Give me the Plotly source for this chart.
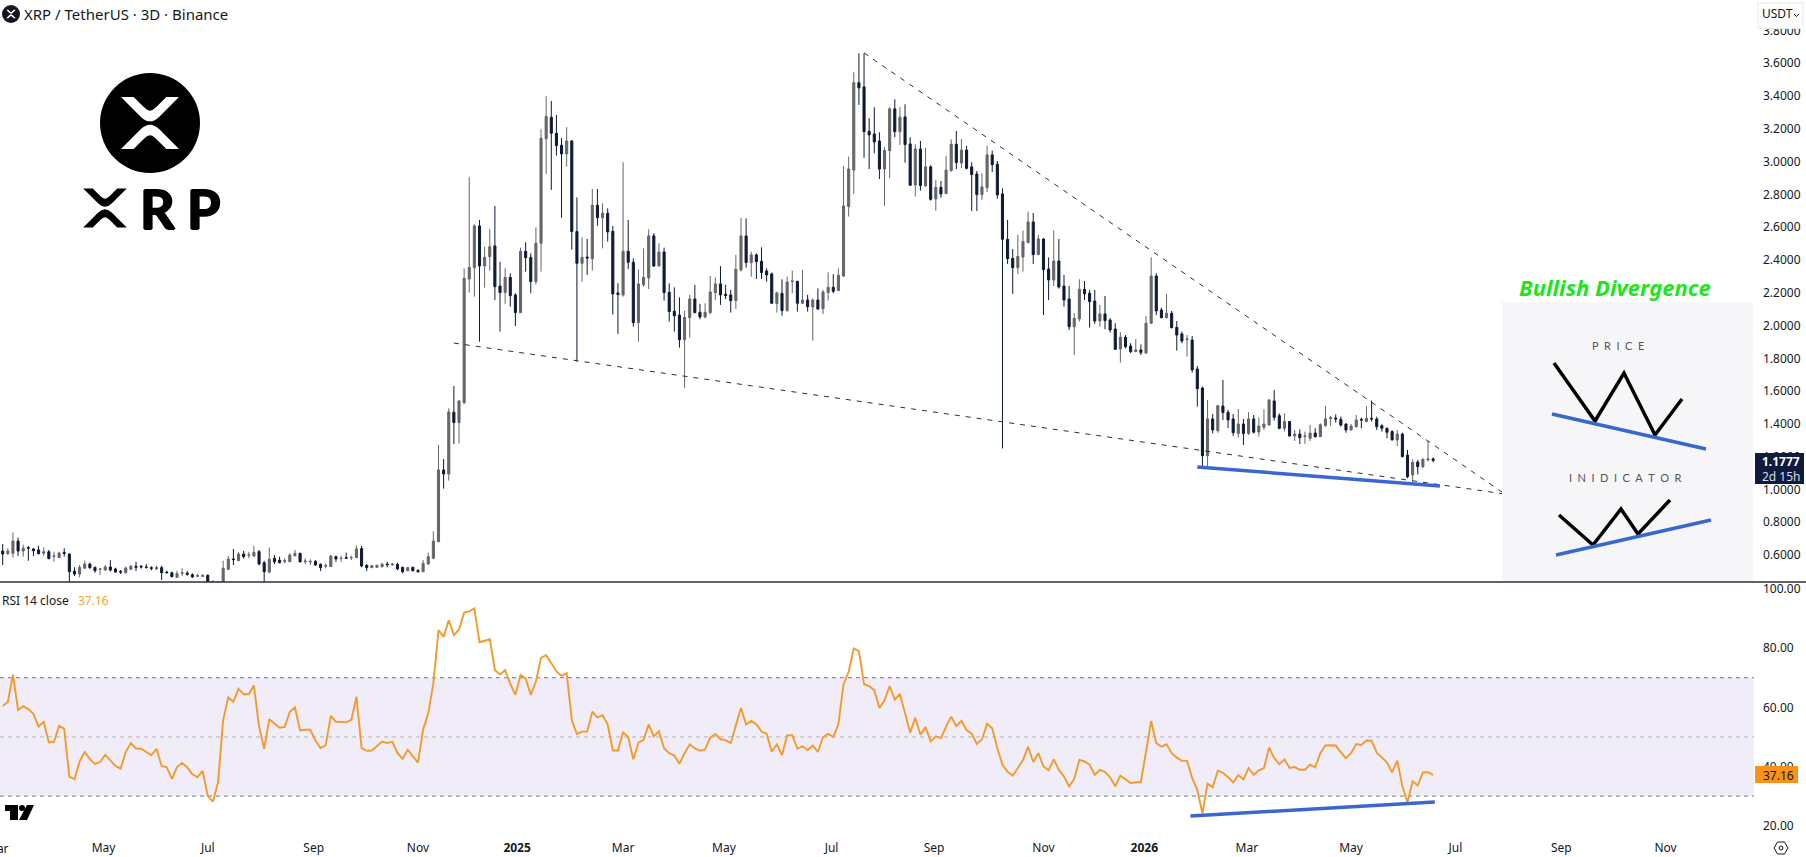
import pandas as pd
import plotly.graph_objects as go

WIDTH, HEIGHT = 1806, 857
PLOT_W = 1754          # price gutter starts here
PANE_SPLIT = 582       # separator between price and RSI panes
RSI_BOTTOM = 834

first_bar = pd.Timestamp("2024-03-03")
bar_count = 280

# XRP/USDT three-day candles
candle_side = (
    "DUUDUDDDUD" "UUDDDUUDDU" "UDDDUUDDDD" "UDDDUUDDUU" "DUUUUDUDUU" "DDUDDUUUDU" "UDDUUDUDUU"
    "DDUUUDUDDU" "DDUUUUDUDU" "UUUDUUDDUD" "DUDDUUUDDD" "UDDUDUDUDD" "DUDDUUUDUD" "DDDUUDDUUU"
    "DDDUUDUDDD" "DUDUUDUDUD" "UUDUUUUDDD" "DDUUDUDDUD" "UDUDUUDUDD" "DUUDDDDDUU" "UDUDDUDDDU"
    "UDDDUDDDUD" "DUDUUDDUDD" "DUDDDUDUDD" "DUDUDUUUDD" "UDUDUUDUUU" "DDDUUDUDDD" "DDUDDUDUUD"
)

highs = [
    .667, .641, .738, .706, .663, .655, .641, .657, .647, .631,
    .620, .620, .641, .610, .525, .539, .567, .553, .529, .519,
    .539, .569, .523, .508, .529, .539, .559, .539, .545, .531,
    .535, .535, .504, .498, .504, .519, .502, .488, .484, .484,
    .482, .447, .441, .565, .594, .637, .616, .626, .620, .655,
    .631, .565, .645, .600, .590, .580, .610, .631, .614, .580,
    .574, .569, .549, .549, .600, .596, .596, .614, .596, .659,
    .655, .545, .539, .541, .553, .559, .549, .553, .529, .525,
    .529, .513, .569, .614, .744, 1.271, 1.186, 1.495, 1.631, 1.546,
    2.349, 2.905, 2.618, 2.644, 2.481, 2.589, 2.730, 2.388, 2.349, 2.319,
    2.197, 2.475, 2.508, 2.441, 2.599, 3.197, 3.401, 3.370, 3.285, 3.143,
    3.210, 3.132, 2.782, 2.538, 2.528, 2.833, 2.833, 2.746, 2.715, 2.608,
    2.258, 2.996, 2.644, 2.410, 2.343, 2.471, 2.587, 2.563, 2.502, 2.475,
    2.258, 2.233, 2.172, 2.089, 2.187, 2.248, 2.132, 2.136, 2.302, 2.294,
    2.363, 2.248, 2.217, 2.431, 2.658, 2.654, 2.451, 2.441, 2.477, 2.349,
    2.323, 2.207, 2.282, 2.298, 2.335, 2.272, 2.339, 2.187, 2.166, 2.227,
    2.217, 2.325, 2.313, 2.349, 2.974, 3.031, 3.545, 3.661, 3.661, 3.265,
    3.332, 3.179, 3.088, 3.332, 3.380, 3.332, 3.350, 3.149, 3.106, 3.126,
    3.084, 2.978, 2.888, 2.882, 3.035, 3.136, 3.187, 3.138, 3.096, 2.996,
    2.943, 2.929, 3.098, 3.067, 3.004, 2.837, 2.644, 2.467, 2.553, 2.579,
    2.695, 2.687, 2.553, 2.532, 2.416, 2.581, 2.528, 2.309, 2.241, 2.075,
    2.282, 2.272, 2.217, 2.217, 2.126, 2.180, 2.044, 2.014, 1.959, 1.942,
    1.892, 1.918, 1.885, 2.058, 2.416, 2.319, 2.109, 2.193, 2.089, 2.028,
    1.963, 1.942, 1.936, 1.753, 1.627, 1.546, 1.460, 1.515, 1.668, 1.485,
    1.460, 1.491, 1.430, 1.471, 1.454, 1.440, 1.489, 1.550, 1.607, 1.464,
    1.464, 1.418, 1.363, 1.367, 1.353, 1.393, 1.373, 1.403, 1.509, 1.448,
    1.458, 1.444, 1.403, 1.399, 1.454, 1.438, 1.509, 1.542, 1.444, 1.397,
    1.377, 1.361, 1.363, 1.346, 1.241, 1.184, 1.180, 1.190, 1.296, 1.196,
]

body_tops = [
    .624, .624, .685, .685, .641, .645, .637, .631, .620, .620,
    .594, .612, .616, .606, .502, .525, .545, .545, .525, .515,
    .527, .527, .515, .500, .521, .531, .531, .531, .527, .523,
    .523, .523, .496, .492, .486, .492, .490, .480, .474, .474,
    .476, .437, .437, .519, .576, .576, .606, .606, .600, .616,
    .620, .553, .574, .580, .569, .565, .600, .610, .610, .563,
    .561, .561, .543, .535, .594, .590, .580, .584, .584, .637,
    .639, .537, .535, .537, .543, .545, .545, .543, .525, .523,
    .525, .506, .549, .590, .685, 1.119, 1.119, 1.473, 1.471, 1.540,
    2.288, 2.355, 2.608, 2.608, 2.416, 2.481, 2.486, 2.241, 2.294, 2.294,
    2.187, 2.453, 2.453, 2.416, 2.502, 3.143, 3.275, 3.271, 3.173, 3.100,
    3.126, 3.126, 2.573, 2.416, 2.418, 2.734, 2.734, 2.685, 2.685, 2.575,
    2.199, 2.453, 2.453, 2.386, 2.254, 2.294, 2.547, 2.547, 2.449, 2.449,
    2.203, 2.087, 2.064, 2.050, 2.162, 2.162, 2.081, 2.081, 2.205, 2.254,
    2.254, 2.191, 2.187, 2.343, 2.547, 2.547, 2.431, 2.431, 2.392, 2.333,
    2.315, 2.199, 2.197, 2.266, 2.272, 2.270, 2.156, 2.156, 2.156, 2.156,
    2.205, 2.233, 2.233, 2.307, 2.730, 2.955, 3.482, 3.482, 3.456, 3.185,
    3.169, 3.126, 3.069, 3.322, 3.322, 3.271, 3.273, 3.108, 3.077, 3.077,
    2.968, 2.968, 2.843, 2.843, 2.949, 3.106, 3.106, 3.071, 3.071, 2.968,
    2.925, 2.846, 3.041, 3.041, 2.984, 2.803, 2.526, 2.410, 2.422, 2.512,
    2.632, 2.632, 2.528, 2.528, 2.345, 2.394, 2.394, 2.241, 2.162, 2.044,
    2.221, 2.221, 2.197, 2.150, 2.071, 2.071, 2.034, 1.979, 1.928, 1.928,
    1.875, 1.851, 1.851, 2.014, 2.302, 2.302, 2.095, 2.075, 2.075, 1.989,
    1.949, 1.918, 1.912, 1.735, 1.619, 1.430, 1.430, 1.511, 1.509, 1.471,
    1.430, 1.399, 1.399, 1.430, 1.430, 1.387, 1.399, 1.546, 1.540, 1.450,
    1.414, 1.414, 1.338, 1.338, 1.326, 1.344, 1.344, 1.395, 1.430, 1.438,
    1.436, 1.428, 1.399, 1.387, 1.424, 1.428, 1.434, 1.434, 1.430, 1.389,
    1.373, 1.353, 1.338, 1.338, 1.210, 1.165, 1.167, 1.184, 1.186, 1.186,
]

body_bottoms = [
    .606, .610, .610, .624, .624, .641, .626, .608, .610, .578,
    .590, .584, .610, .498, .484, .484, .519, .523, .504, .513,
    .508, .508, .496, .496, .492, .513, .525, .527, .525, .519,
    .515, .492, .492, .468, .464, .488, .482, .466, .470, .470,
    .433, .433, .427, .417, .513, .572, .565, .590, .598, .594,
    .545, .498, .496, .559, .553, .561, .559, .596, .559, .559,
    .557, .539, .523, .531, .529, .576, .578, .580, .582, .584,
    .533, .523, .523, .525, .529, .541, .541, .515, .498, .504,
    .504, .498, .498, .545, .580, .681, 1.094, 1.094, 1.408, 1.408,
    1.529, 2.284, 2.353, 2.363, 2.363, 2.420, 2.237, 2.201, 2.201, 2.182,
    2.079, 2.079, 2.414, 2.268, 2.268, 2.502, 3.140, 3.173, 3.098, 3.047,
    3.047, 2.573, 2.380, 2.380, 2.412, 2.408, 2.658, 2.658, 2.571, 2.193,
    2.189, 2.187, 2.386, 2.018, 2.018, 2.248, 2.290, 2.363, 2.363, 2.201,
    2.085, 2.060, 1.914, 1.914, 2.048, 2.079, 2.052, 2.052, 2.079, 2.201,
    2.187, 2.184, 2.152, 2.152, 2.339, 2.384, 2.384, 2.390, 2.323, 2.309,
    2.136, 2.134, 2.091, 2.091, 2.268, 2.136, 2.136, 2.115, 2.113, 2.101,
    2.103, 2.201, 2.209, 2.213, 2.302, 2.726, 2.949, 3.450, 3.183, 3.163,
    3.120, 2.955, 2.955, 3.067, 3.183, 3.183, 3.104, 2.856, 2.858, 2.854,
    2.852, 2.770, 2.772, 2.803, 2.805, 2.945, 2.994, 2.992, 2.959, 2.921,
    2.799, 2.799, 2.841, 2.982, 2.797, 2.526, 2.408, 2.353, 2.353, 2.418,
    2.506, 2.433, 2.433, 2.341, 2.278, 2.278, 2.235, 2.156, 1.993, 1.993,
    2.040, 2.193, 2.146, 2.028, 2.028, 2.030, 1.973, 1.855, 1.857, 1.871,
    1.841, 1.841, 1.835, 1.833, 2.014, 2.089, 2.048, 2.048, 1.987, 1.942,
    1.906, 1.914, 1.729, 1.615, 1.206, 1.206, 1.363, 1.359, 1.469, 1.424,
    1.346, 1.342, 1.342, 1.342, 1.349, 1.351, 1.379, 1.393, 1.440, 1.373,
    1.373, 1.326, 1.326, 1.316, 1.322, 1.312, 1.322, 1.322, 1.389, 1.432,
    1.430, 1.393, 1.363, 1.363, 1.383, 1.424, 1.414, 1.430, 1.383, 1.373,
    1.349, 1.302, 1.302, 1.200, 1.078, 1.088, 1.139, 1.139, 1.180, 1.1777,
]

lows = [
    .539, .600, .584, .594, .590, .565, .594, .604, .596, .574,
    .559, .582, .590, .433, .472, .464, .517, .515, .492, .478,
    .506, .500, .492, .484, .488, .508, .502, .517, .517, .506,
    .508, .447, .488, .464, .462, .472, .474, .460, .466, .468,
    .420, .420, .417, .407, .508, .539, .563, .578, .580, .590,
    .537, .417, .488, .545, .549, .549, .557, .590, .553, .545,
    .539, .535, .502, .519, .527, .559, .557, .578, .569, .582,
    .525, .502, .523, .523, .523, .525, .533, .508, .488, .502,
    .500, .492, .496, .541, .574, .681, 1.005, 1.054, 1.277, 1.281,
    1.521, 2.201, 2.176, 1.902, 2.231, 2.335, 2.156, 1.963, 2.132, 2.115,
    1.997, 2.079, 2.329, 2.197, 2.250, 2.329, 2.925, 2.827, 3.037, 2.658,
    2.970, 2.463, 1.780, 2.268, 2.309, 2.335, 2.608, 2.471, 2.512, 2.067,
    1.949, 2.176, 2.345, 1.993, 1.902, 2.237, 2.223, 2.359, 2.363, 2.152,
    2.024, 1.963, 1.865, 1.619, 1.926, 2.075, 2.038, 2.044, 2.069, 2.156,
    2.126, 2.162, 2.079, 2.101, 2.329, 2.353, 2.298, 2.284, 2.284, 2.268,
    2.132, 2.079, 2.060, 2.085, 2.197, 2.085, 2.132, 2.085, 1.908, 2.095,
    2.069, 2.152, 2.197, 2.211, 2.298, 2.665, 2.803, 3.346, 3.023, 2.955,
    3.051, 2.894, 2.730, 2.898, 3.149, 3.102, 2.994, 2.852, 2.787, 2.823,
    2.848, 2.762, 2.701, 2.780, 2.803, 2.939, 2.955, 2.961, 2.953, 2.699,
    2.699, 2.766, 2.815, 2.937, 2.774, 1.250, 2.376, 2.193, 2.315, 2.329,
    2.502, 2.376, 2.429, 2.064, 2.156, 2.241, 2.225, 2.115, 1.973, 1.820,
    2.024, 2.156, 1.987, 2.010, 1.993, 1.977, 1.957, 1.851, 1.774, 1.861,
    1.831, 1.839, 1.820, 1.827, 2.010, 2.064, 2.044, 2.044, 1.983, 1.847,
    1.892, 1.810, 1.713, 1.505, 1.139, 1.129, 1.342, 1.346, 1.424, 1.375,
    1.326, 1.316, 1.271, 1.332, 1.342, 1.322, 1.363, 1.389, 1.420, 1.367,
    1.353, 1.322, 1.296, 1.277, 1.277, 1.296, 1.316, 1.320, 1.383, 1.387,
    1.408, 1.383, 1.346, 1.359, 1.377, 1.373, 1.410, 1.414, 1.363, 1.353,
    1.312, 1.300, 1.265, 1.196, 1.068, 1.047, 1.092, 1.129, 1.170, 1.165,
]

rsi_close = [
    60.4, 61.8, 71.0, 59.1, 60.4, 59.4, 57.8, 53.5, 55.1, 48.1,
    48.3, 53.8, 52.7, 36.6, 35.7, 41.7, 44.9, 42.5, 40.9, 41.5,
    43.9, 41.9, 40.2, 39.3, 44.9, 47.9, 46.1, 46.0, 44.9, 43.8,
    46.0, 40.2, 39.7, 35.8, 39.8, 41.2, 39.7, 37.4, 36.4, 38.5,
    30.1, 28.1, 34.7, 55.7, 63.3, 61.9, 66.3, 64.4, 64.4, 67.4,
    53.5, 46.0, 56.0, 54.4, 53.1, 53.4, 58.5, 60.0, 52.2, 52.4,
    52.4, 48.8, 46.2, 47.2, 57.1, 55.1, 55.1, 54.9, 55.8, 63.6,
    46.2, 45.3, 45.4, 46.9, 48.4, 47.9, 48.4, 44.5, 42.6, 45.7,
    43.4, 41.3, 52.4, 58.0, 68.1, 86.1, 83.8, 89.4, 84.4, 86.3,
    92.0, 92.4, 93.4, 82.0, 82.5, 83.0, 72.6, 71.1, 72.6, 67.9,
    64.2, 70.9, 69.8, 64.2, 68.7, 76.7, 77.6, 74.8, 72.2, 70.6,
    71.5, 55.7, 51.0, 51.8, 51.8, 58.5, 56.6, 57.3, 54.2, 45.4,
    45.4, 51.5, 50.0, 42.4, 48.1, 49.0, 54.2, 50.2, 51.9, 46.2,
    44.5, 43.7, 40.9, 44.5, 47.5, 46.2, 45.3, 45.8, 49.8, 51.0,
    49.2, 48.9, 47.9, 53.9, 59.8, 54.2, 55.4, 54.3, 51.8, 51.1,
    45.0, 47.5, 43.9, 50.5, 50.6, 46.0, 46.9, 45.5, 47.1, 44.9,
    49.9, 51.0, 50.0, 54.2, 67.8, 72.0, 79.9, 79.0, 67.8, 67.2,
    65.8, 59.8, 62.4, 67.2, 62.6, 64.5, 58.2, 51.4, 56.5, 50.7,
    53.3, 48.5, 50.2, 49.6, 53.5, 56.8, 53.6, 55.4, 52.3, 51.1,
    47.6, 49.2, 54.5, 52.9, 46.2, 40.6, 38.2, 36.9, 39.5, 42.2,
    46.7, 41.5, 44.5, 40.0, 38.7, 42.4, 38.9, 36.6, 33.3, 35.8,
    42.2, 41.7, 40.6, 37.2, 38.9, 38.2, 36.3, 33.3, 36.9, 35.6,
    34.4, 34.7, 34.7, 45.0, 55.4, 47.9, 46.7, 47.5, 44.5, 43.0,
    41.9, 41.9, 36.1, 32.2, 24.2, 34.2, 33.0, 38.6, 37.9, 36.4,
    34.6, 37.1, 35.6, 39.5, 37.2, 38.7, 39.5, 46.4, 42.8, 40.8,
    42.4, 39.5, 39.8, 38.9, 38.9, 40.6, 39.7, 44.5, 47.1, 47.2,
    47.1, 44.8, 42.8, 44.5, 47.6, 47.3, 48.8, 48.7, 44.7, 43.1,
    41.3, 38.0, 42.0, 33.3, 27.9, 35.0, 33.6, 38.0, 38.1, 37.16,
]

price_ticks = [0.6, 0.8, 1.0, 1.2, 1.4, 1.6, 1.8, 2.0, 2.2, 2.4, 2.6, 2.8, 3.0, 3.2, 3.4, 3.6, 3.8]
rsi_ticks = [20, 40, 60, 80, 100]
# Labels sit on the first bar of each month, so some fall a day or two off the calendar date
month_ticks = [
    "2024-05-01", "2024-07-01", "2024-09-01", "2024-11-01", "2024-12-29", "2025-03-01",
    "2025-04-29", "2025-07-01", "2025-08-30", "2025-11-02", "2025-12-31", "2026-03-01",
    "2026-05-01", "2026-07-01", "2026-09-01", "2026-11-01",
]
month_labels = [
    "May", "Jul", "Sep", "Nov", "<b>2025</b>", "Mar", "May", "Jul", "Sep", "Nov",
    "<b>2026</b>", "Mar", "May", "Jul", "Sep", "Nov",
]

# Trend lines: (date, price) endpoints
wedge_top = [("2025-07-20", 3.663), ("2026-07-30", 0.972)]
wedge_bottom = [("2024-11-22", 1.893), ("2026-07-30", 0.972)]
price_support = [("2026-01-31", 1.137), ("2026-06-22", 1.021)]
rsi_support = [("2026-01-27", 23.3), ("2026-06-19", 28.0)]

INK = "#131722"
UP = "#666666"
DOWN = "#0d1a35"
AMBER = "#f29a2e"
BLUE = "#3a66d0"
UI_FONT = "Noto Sans, sans-serif"
HEAVY = "1px 0 0 #000, -1px 0 0 #000, 0 1px 0 #000, 0 -1px 0 #000"

bar_dates = pd.date_range(first_bar, periods=bar_count, freq="3D")
opens = [b if s == "U" else t for s, t, b in zip(candle_side, body_tops, body_bottoms)]
closes = [t if s == "U" else b for s, t, b in zip(candle_side, body_tops, body_bottoms)]

day_px = 5.127 / 3
x_left = first_bar - pd.Timedelta(days=2.7 / day_px)
x_right = first_bar + pd.Timedelta(days=(PLOT_W - 2.7) / day_px)


def px(x, y):
    """Canvas pixels to the layout's paper fractions."""
    return x / PLOT_W, 1 - y / HEIGHT


def path(points, close=True):
    cmds = []
    for i, pt in enumerate(points):
        if len(pt) == 2:
            cmds.append(("M" if i == 0 else "L") + " %.5f %.5f" % px(*pt))
        else:
            a = px(pt[0], pt[1])
            b = px(pt[2], pt[3])
            cmds.append("Q %.5f %.5f %.5f %.5f" % (*a, *b))
    return " ".join(cmds) + (" Z" if close else "")


def paper_shape(kind, **kw):
    return dict(type=kind, xref="paper", yref="paper", layer="above", **kw)


def rect(x0, y0, x1, y1, fill, line=None):
    a, b = px(x0, y0), px(x1, y1)
    return paper_shape("rect", x0=a[0], y0=a[1], x1=b[0], y1=b[1], fillcolor=fill,
                       line=dict(color=line or fill, width=1 if line else 0))


def circle(cx, cy, r, fill, line=None, width=0):
    a, b = px(cx - r, cy - r), px(cx + r, cy + r)
    return paper_shape("circle", x0=a[0], y0=a[1], x1=b[0], y1=b[1], fillcolor=fill,
                       line=dict(color=line or fill, width=width))


def poly(points, color, width):
    return paper_shape("path", path=path(points, close=False),
                       line=dict(color=color, width=width), fillcolor="rgba(0,0,0,0)")


def xrp_mark(cx, cy, s, fill):
    """Two mirrored chevrons forming the XRP X."""
    def pt(x, y):
        return cx + x * s, cy + y * s

    def chevron(sign, base):
        return [
            pt(-87, sign * base), pt(-49, sign * base),
            pt(-18, sign * (base - 31)),
            (*pt(-8, sign * (base - 41)), *pt(0, sign * (base - 41))),
            (*pt(8, sign * (base - 41)), *pt(18, sign * (base - 31))),
            pt(49, sign * base), pt(87, sign * base),
            pt(28, sign * (base - 59)),
            (*pt(14, sign * (base - 73)), *pt(0, sign * (base - 73))),
            (*pt(-14, sign * (base - 73)), *pt(-28, sign * (base - 59))),
        ]

    return [paper_shape("path", path=path(chevron(s_, 78)), fillcolor=fill, line=dict(width=0))
            for s_ in (-1, 1)]


def text(x, y, s, size=12, color=INK, anchor="left", family=UI_FONT, **font_extra):
    fx, fy = px(x, y)
    font = dict(size=size, color=color, family=family, **font_extra)
    return dict(x=fx, y=fy, xref="paper", yref="paper", text=s, showarrow=False,
                xanchor=anchor, yanchor="middle", align=anchor, borderpad=0, borderwidth=0, font=font)


def trend(points, yref, color, width, dash="solid"):
    (x0, y0), (x1, y1) = points
    return dict(type="line", xref="x", yref=yref, x0=x0, y0=y0, x1=x1, y1=y1, layer="above",
                line=dict(color=color, width=width, dash=dash))


def rsi_level(value, color):
    return dict(type="line", xref="paper", yref="y2", x0=0, x1=1, y0=value, y1=value, layer="below",
                line=dict(color=color, width=1, dash="4px,4px"))


fig = go.Figure()
fig.add_trace(go.Candlestick(
    x=bar_dates, open=opens, high=highs, low=lows, close=closes,
    increasing=dict(line=dict(color=UP, width=1), fillcolor=UP),
    decreasing=dict(line=dict(color=DOWN, width=1), fillcolor=DOWN),
    whiskerwidth=0, xaxis="x", yaxis="y", showlegend=False, hoverinfo="skip",
))
fig.add_trace(go.Scatter(
    x=bar_dates, y=rsi_close, mode="lines", xaxis="x2", yaxis="y2", showlegend=False,
    line=dict(color=AMBER, width=1.9), hoverinfo="skip",
))

shapes = [
    dict(type="rect", xref="paper", yref="y2", x0=0, x1=1, y0=30, y1=70, layer="below",
         fillcolor="#f0edf8", line=dict(width=0)),
    rsi_level(70, "#787b86"), rsi_level(50, "#b4b4bc"), rsi_level(30, "#787b86"),
    trend(wedge_top, "y", "#2a2e39", 1, "5px,6px"),
    trend(wedge_bottom, "y", "#2a2e39", 1, "5px,6px"),
    trend(price_support, "y", BLUE, 3.5),
    trend(rsi_support, "y2", BLUE, 3.5),
    # pane separator
    paper_shape("line", x0=0, x1=WIDTH / PLOT_W, y0=px(0, PANE_SPLIT)[1], y1=px(0, PANE_SPLIT)[1],
                line=dict(color="#2a2e39", width=1.5)),
    # divergence explainer card
    rect(1502, 302, 1753, 581, "#f6f6f8"),
    poly([(1554, 363), (1595, 421), (1624, 373), (1655, 435), (1682, 399)], "#000000", 3.5),
    poly([(1552, 414), (1706, 449)], BLUE, 3.5),
    poly([(1559, 515), (1593, 545), (1621, 509), (1638, 534), (1670, 500)], "#000000", 3.5),
    poly([(1556, 555), (1711, 520)], BLUE, 3.5),
    # axis badges
    rect(1755, 453, 1804, 484, "#0f1b3d"),
    rect(1755, 766, 1798, 783, "#f7931a"),
    # currency button
    rect(1758, 3, 1803, 28.5, "#ffffff", "#e8eaee"),
    poly([(1794, 14), (1796.5, 16.5), (1799, 14)], INK, 1),
    # settings glyph
    poly([(1774, 848), (1777.5, 842), (1784.5, 842), (1788, 848), (1784.5, 854), (1777.5, 854), (1774, 848)], INK, 1),
    circle(1781, 848, 2, "#ffffff", INK, 1),
    # watermark
    paper_shape("path", path=path([(5, 805), (18, 805), (18, 820), (10, 820), (10, 811), (5, 811)]),
                fillcolor="#000000", line=dict(width=0)),
    circle(22, 808, 3, "#000000"),
    paper_shape("path", path=path([(27, 805), (34, 805), (27, 820), (19, 820)]),
                fillcolor="#000000", line=dict(width=0)),
    # coin badge and logo
    circle(11, 14, 9, "#14171f"),
    *xrp_mark(11, 14, 0.055, "#ffffff"),
    circle(150, 123, 50, "#000000"),
    *xrp_mark(150, 123, 1 / 3, "#ffffff"),
    *xrp_mark(105, 208, 0.25, "#000000"),
]

annotations = [
    text(24, 14, "XRP / TetherUS · 3D · Binance", size=15),
    text(2, 600, "RSI 14 close", size=12),
    text(78, 600, "37.16", size=12, color="#f0a63e"),
    text(157, 208, "R", size=54, anchor="center", family="Lato, sans-serif", color="#000000", weight=700, shadow=HEAVY),
    text(203, 208, "P", size=54, anchor="center", family="Lato, sans-serif", color="#000000", weight=700, shadow=HEAVY),
    text(1615, 287, "<b><i>Bullish Divergence</i></b>", size=22, color="#1ee61e", anchor="center"),
    text(1618, 346, "P\u2002R\u2002I\u2002C\u2002E", size=11, color="#555555", anchor="center", family="Lato, sans-serif"),
    text(1625, 477, "I\u2002N\u2002I\u2002D\u2002I\u2002C\u2002A\u2002T\u2002O\u2002R", size=11, color="#555555", anchor="center", family="Lato, sans-serif"),
    text(1762, 461, "<b>1.1777</b>", size=12, color="#ffffff"),
    text(1762, 476, "2d 15h", size=12, color="#d6dbe8"),
    text(1763, 775, "37.16", size=12, color="#131722"),
    text(1762, 14, "USDT", size=12),
    text(-3, 848, "Mar", size=12, anchor="center"),
]

axis_font = dict(size=12, color=INK, family=UI_FONT)
fig.update_layout(
    width=WIDTH, height=HEIGHT, autosize=False,
    margin=dict(l=0, r=WIDTH - PLOT_W, t=0, b=0, pad=0, autoexpand=False),
    paper_bgcolor="#ffffff", plot_bgcolor="#ffffff",
    boxgap=0.42, showlegend=False, hovermode=False,
    shapes=shapes, annotations=annotations,
    xaxis=dict(type="date", range=[x_left, x_right], anchor="y", showgrid=False, zeroline=False,
               showticklabels=False, ticks="", showline=False, rangeslider=dict(visible=False)),
    xaxis2=dict(type="date", range=[x_left, x_right], anchor="y2", showgrid=False, zeroline=False,
                showline=False, ticks="", tickmode="array", tickvals=month_ticks, ticktext=month_labels,
                tickfont=axis_font, ticklabelstandoff=5),
    yaxis=dict(domain=[1 - PANE_SPLIT / HEIGHT, 1], range=[0.4353, 3.9861], side="right", anchor="x",
               showgrid=False, zeroline=False, showline=False, ticks="", tickmode="array",
               tickvals=price_ticks, tickformat=".4f", tickfont=axis_font, ticklabelstandoff=8),
    yaxis2=dict(domain=[1 - RSI_BOTTOM / HEIGHT, 1 - (PANE_SPLIT + 1) / HEIGHT], range=[17.2, 102.0],
                side="right", anchor="x2", showgrid=False, zeroline=False, showline=False, ticks="",
                tickmode="array", tickvals=rsi_ticks, tickformat=".2f", tickfont=axis_font,
                ticklabelstandoff=8),
)

fig.write_html("out.html")
